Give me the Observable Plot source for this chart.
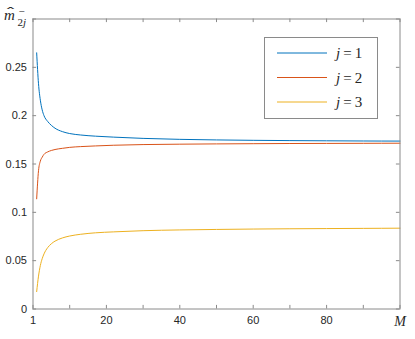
<!DOCTYPE html>
<html>
<head>
<meta charset="utf-8">
<script src="https://cdn.jsdelivr.net/npm/d3@7"></script>
<script src="https://cdn.jsdelivr.net/npm/@observablehq/plot@0.6"></script>
<style>
  html, body { margin: 0; padding: 0; background: #fff; }
  #chart { width: 415px; height: 339px; }
</style>
</head>
<body>
<div id="chart"></div>
<script>
const M = [1, 1.5, 2, 2.5, 3, 4, 5, 6, 8, 10, 13, 17, 22, 30, 40, 50, 60, 70, 80, 90, 100];
const j1 = [0.265, 0.233, 0.216, 0.206, 0.2, 0.194, 0.19, 0.187, 0.1835, 0.1815, 0.18, 0.1788, 0.1778, 0.1765, 0.1755, 0.1749, 0.1745, 0.1742, 0.174, 0.1738, 0.1737];
const j2 = [0.114, 0.143, 0.153, 0.157, 0.16, 0.1625, 0.164, 0.165, 0.1662, 0.1672, 0.168, 0.1687, 0.1694, 0.1701, 0.1705, 0.1708, 0.171, 0.1712, 0.1713, 0.1714, 0.1715];
const j3 = [0.018, 0.034, 0.045, 0.052, 0.057, 0.0635, 0.0675, 0.0702, 0.0735, 0.0755, 0.0773, 0.0788, 0.0798, 0.081, 0.0818, 0.0823, 0.0827, 0.083, 0.0832, 0.0834, 0.0836];
const seriesNames = ["j = 1", "j = 2", "j = 3"];
const seriesColors = ["#0072BD", "#D95319", "#EDB120"];
const xTicks = [0, 20, 40, 60, 80, 100];
const xTickLabels = ["1", "20", "40", "60", "80", "M"];
const xMinorTicks = [0, 10, 20, 30, 40, 50, 60, 70, 80, 90, 100];
const yTicks = [0, 0.05, 0.1, 0.15, 0.2, 0.25, 0.3];
const yTickLabels = ["0", "0.05", "0.1", "0.15", "0.2", "0.25", ""];

const data = [];
[j1, j2, j3].forEach((vals, k) => vals.forEach((v, i) => data.push({M: M[i], v, s: seriesNames[k]})));

const axisColor = "#8a8a8a";
const tl = 3.6; // tick length px
const W = 415, H = 339, mL = 32.5, mR = 15.5, mT = 18.5, mB = 30.5;
const kx = (100 - 0) / (W - mL - mR);
const ky = 0.3 / (H - mT - mB);

const plot = Plot.plot({
  width: W, height: H,
  marginLeft: mL, marginRight: mR, marginTop: mT, marginBottom: mB,
  style: {fontFamily: "'Liberation Sans', Arial, sans-serif", fontSize: "11px", color: "#262626", background: "#fff"},
  x: {domain: [0, 100], label: null},
  y: {domain: [0, 0.3], label: null},
  color: {domain: seriesNames, range: seriesColors},
  marks: [
    Plot.ruleX(xMinorTicks, {x: d => d, y1: 0, y2: tl * ky, stroke: axisColor}),
    Plot.ruleX(xMinorTicks, {x: d => d, y1: 0.3, y2: 0.3 - tl * ky, stroke: axisColor}),
    Plot.ruleY(yTicks, {y: d => d, x1: 0, x2: tl * kx, stroke: axisColor}),
    Plot.ruleY(yTicks, {y: d => d, x1: 100, x2: 100 - tl * kx, stroke: axisColor}),
    Plot.axisX({ticks: xTicks.slice(0, 5), tickFormat: (d) => xTickLabels[xTicks.indexOf(d)], tickSize: 0, tickPadding: 7, fill: "#262626", label: null}),
    Plot.text([xTickLabels[5]], {x: () => xTicks[5], y: () => 0, dy: 13, fontFamily: "'Liberation Serif', 'DejaVu Serif', serif", fontStyle: "italic", fontSize: 14, fill: "#262626"}),
    Plot.axisY({ticks: yTicks, tickFormat: (d) => yTickLabels[yTicks.indexOf(d)], tickSize: 0, tickPadding: 6, fill: "#262626", label: null}),
    Plot.line(data, {x: "M", y: "v", stroke: "s", z: "s", strokeWidth: 1, curve: "monotone-x"}),
    Plot.frame({stroke: axisColor, strokeWidth: 1})
  ]
});
document.getElementById("chart").appendChild(plot);

const svg = d3.select(plot);
const serif = "'Liberation Serif', 'DejaVu Serif', serif";
// y-axis label: \hat{m}^-_{2j}
const lab = svg.append("text").attr("x", 4).attr("y", 20).attr("text-anchor", "start")
  .attr("font-family", serif).attr("font-size", 15).attr("fill", "#262626");
lab.append("tspan").attr("font-style", "italic").text("m");
svg.append("text").attr("x", 4.5).attr("y", 16).attr("text-anchor", "start").attr("font-family", "'DejaVu Sans', sans-serif").attr("font-size", 11).attr("fill", "#262626")
  .text("\u02C6").attr("textLength", 12).attr("lengthAdjust", "spacingAndGlyphs");
svg.append("text").attr("x", 18.5).attr("y", 15).attr("text-anchor", "start").attr("font-family", serif).attr("font-size", 11).attr("fill", "#262626").text("\u2212");
const sub = svg.append("text").attr("x", 17.5).attr("y", 26).attr("text-anchor", "start").attr("font-family", serif).attr("font-size", 11).attr("fill", "#262626");
sub.append("tspan").text("2");
sub.append("tspan").attr("font-style", "italic").text("j");

// legend
const lg = svg.append("g");
lg.append("rect").attr("x", 264.5).attr("y", 37.5).attr("width", 113).attr("height", 81)
  .attr("fill", "#fff").attr("stroke", axisColor).attr("stroke-width", 1);
seriesNames.forEach((s, k) => {
  const yy = 53 + k * 24.5;
  lg.append("line").attr("x1", 277).attr("x2", 327).attr("y1", yy).attr("y2", yy)
    .attr("stroke", seriesColors[k]).attr("stroke-width", 1);
  const t = lg.append("text").attr("x", 336).attr("y", yy + 5).attr("text-anchor", "start")
    .attr("font-family", serif).attr("font-size", 15).attr("fill", "#262626");
  const parts = s.split(" ");
  t.append("tspan").attr("font-style", "italic").text(parts[0]);
  t.append("tspan").attr("dx", 3).text(parts[1]);
  t.append("tspan").attr("dx", 3).text(parts[2]);
});
</script>
</body>
</html>
